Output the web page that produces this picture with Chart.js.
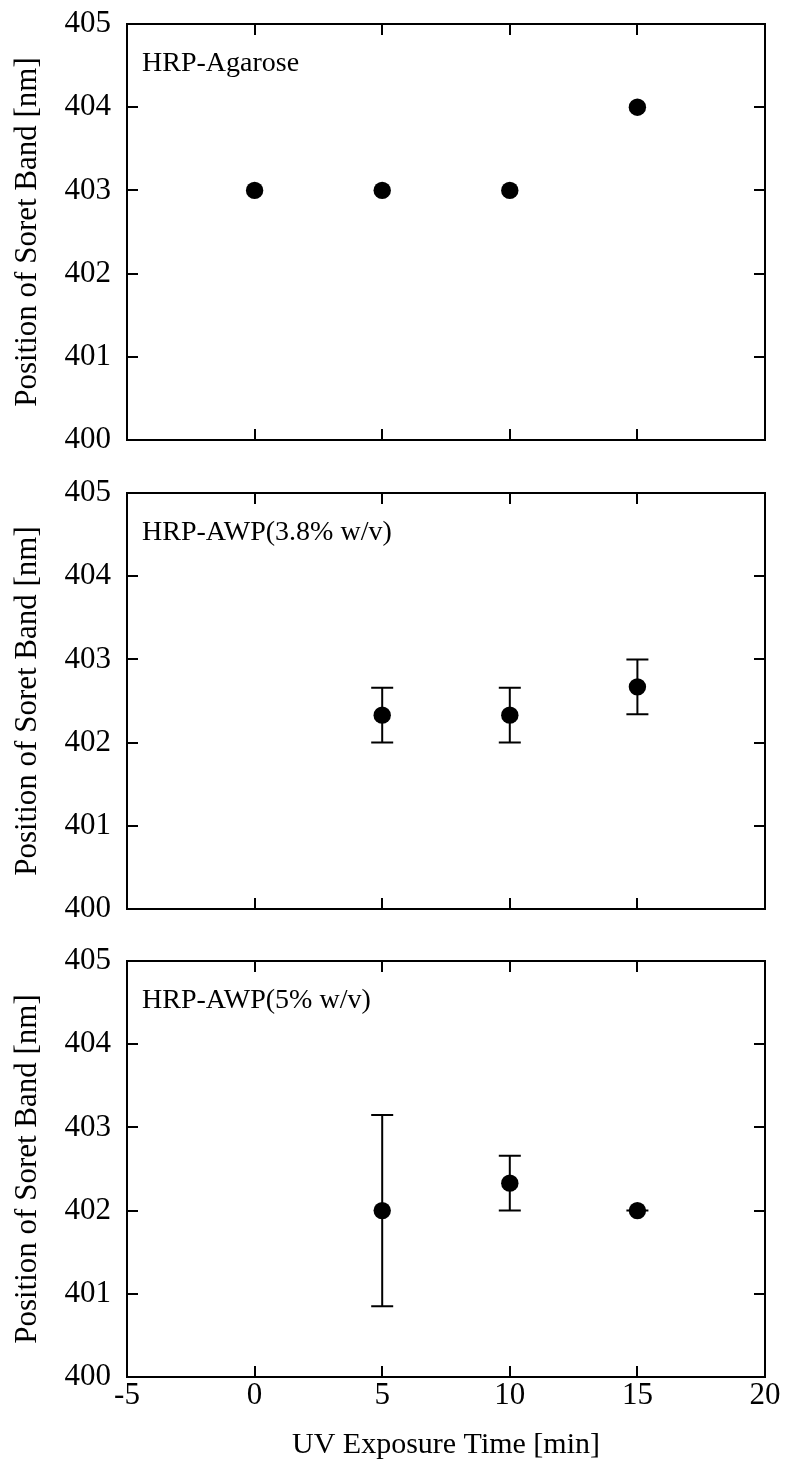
<!DOCTYPE html>
<html>
<head>
<meta charset="utf-8">
<script src="https://cdn.jsdelivr.net/npm/chart.js@4.4.1/dist/chart.umd.min.js"></script>
<style>
  html, body { margin: 0; padding: 0; background: #fff; }
  #wrap { position: relative; width: 787px; height: 1475px; }
  #wrap canvas { position: absolute; left: 0; }
</style>
</head>
<body>
<div id="wrap">
  <canvas id="pA" width="787" height="469" style="top:0px"></canvas>
  <canvas id="pB" width="787" height="469" style="top:469px"></canvas>
  <canvas id="pC" width="787" height="538" style="top:937px"></canvas>
</div>
<script>
// ── Veri ─────────────────────────────────────────────
var panelLabels = ['HRP-Agarose', 'HRP-AWP(3.8% w/v)', 'HRP-AWP(5% w/v)'];

var timeA = [0, 5, 10, 15];
var bandA = [403, 403, 403, 404];
var errA  = [null, null, null, null];

var timeB = [5, 10, 15];
var bandB = [402.33, 402.33, 402.67];
var errB  = [0.33, 0.33, 0.33];

var timeC = [5, 10, 15];
var bandC = [402, 402.33, 402];
var errC  = [1.15, 0.33, 0];

var xMin = -5, xMax = 20, xStep = 5;
var yMin = 400, yMax = 405, yStep = 1;

var yTitle = 'Position of Soret Band [nm]';
var xTitle = 'UV Exposure Time [min]';

var SERIF = "'Liberation Serif', 'Times New Roman', serif";
var charts = {};

// ── Çerçeve + içe dönük tikler ───────────────────────
var framePlugin = {
  id: 'frame',
  afterDraw: function(chart) {
    var ctx = chart.ctx, a = chart.chartArea;
    var xs = chart.scales.x, ys = chart.scales.y;
    var len = 11;
    ctx.save();
    ctx.strokeStyle = '#000';
    ctx.lineWidth = 2;
    ctx.strokeRect(a.left, a.top, a.right - a.left, a.bottom - a.top);
    ctx.beginPath();
    ys.ticks.forEach(function(t) {
      if (t.value <= yMin || t.value >= yMax) return;
      var py = Math.round(ys.getPixelForValue(t.value));
      ctx.moveTo(a.left, py);  ctx.lineTo(a.left + len, py);
      ctx.moveTo(a.right, py); ctx.lineTo(a.right - len, py);
    });
    xs.ticks.forEach(function(t) {
      if (t.value <= xMin || t.value >= xMax) return;
      var px = Math.round(xs.getPixelForValue(t.value));
      ctx.moveTo(px, a.top);    ctx.lineTo(px, a.top + len);
      ctx.moveTo(px, a.bottom); ctx.lineTo(px, a.bottom - len);
    });
    ctx.stroke();
    // panel etiketi
    var lbl = chart.options.plugins.frame.label;
    ctx.fillStyle = '#000';
    ctx.font = '28px ' + SERIF;
    ctx.textBaseline = 'alphabetic';
    ctx.textAlign = 'left';
    ctx.fillText(lbl, a.left + 15, a.top + 47);
    ctx.restore();
  }
};

// ── Hata çubukları ───────────────────────────────────
var errPlugin = {
  id: 'errbars',
  beforeDatasetsDraw: function(chart) {
    var ctx = chart.ctx, xs = chart.scales.x, ys = chart.scales.y;
    var errs = chart.options.plugins.errbars.err;
    var ds = chart.data.datasets[0];
    var cap = 11;
    ctx.save();
    ctx.strokeStyle = '#000';
    ctx.lineWidth = 2;
    ds.data.forEach(function(p, i) {
      var e = errs[i];
      if (e === null || e === undefined) return;
      var px = xs.getPixelForValue(p.x);
      var top = ys.getPixelForValue(p.y + e);
      var bot = ys.getPixelForValue(p.y - e);
      ctx.beginPath();
      ctx.moveTo(px, top); ctx.lineTo(px, bot);
      ctx.moveTo(px - cap, top); ctx.lineTo(px + cap, top);
      ctx.moveTo(px - cap, bot); ctx.lineTo(px + cap, bot);
      ctx.stroke();
    });
    ctx.restore();
  }
};

function mkPanel(id, xs, ys, errs, label, showX) {
  var pts = xs.map(function(x, i) { return { x: x, y: ys[i] }; });
  var ctx = document.getElementById(id);
  charts[id] = new Chart(ctx, {
    type: 'scatter',
    data: {
      datasets: [{
        data: pts,
        pointRadius: 8.7,
        pointHoverRadius: 8.7,
        pointBackgroundColor: '#000',
        pointBorderWidth: 0,
        showLine: false
      }]
    },
    options: {
      responsive: false,
      animation: false,
      events: [],
      layout: { padding: { top: 24, right: 22, left: 0, bottom: showX ? 0 : 29 } },
      plugins: {
        legend: { display: false },
        tooltip: { enabled: false },
        frame: { label: label },
        errbars: { err: errs }
      },
      scales: {
        x: {
          type: 'linear', min: xMin, max: xMax,
          grid: { display: false, drawTicks: false },
          border: { display: false },
          ticks: {
            display: showX, stepSize: xStep, padding: 0, color: '#000',
            font: { family: SERIF, size: 31 }
          },
          title: {
            display: showX, text: xTitle, color: '#000',
            font: { family: SERIF, size: 30 },
            padding: { top: 0, bottom: 12 }
          },
          afterFit: function(s) {
            s.height = showX ? 98 : 0;
            s.paddingLeft = 0; s.paddingRight = 0;
          }
        },
        y: {
          type: 'linear', min: yMin, max: yMax,
          grid: { display: false, drawTicks: false },
          border: { display: false },
          ticks: {
            stepSize: yStep, padding: 16, color: '#000',
            font: { family: SERIF, size: 31 }
          },
          title: {
            display: true, text: yTitle, color: '#000',
            font: { family: SERIF, size: 31 },
            padding: { top: 9, bottom: 0 }
          },
          afterFit: function(s) {
            s.width = 127;
            s.paddingTop = 0; s.paddingBottom = 0;
          }
        }
      }
    },
    plugins: [framePlugin, errPlugin]
  });
  return charts[id];
}

mkPanel('pA', timeA, bandA, errA, panelLabels[0], false);
mkPanel('pB', timeB, bandB, errB, panelLabels[1], false);
mkPanel('pC', timeC, bandC, errC, panelLabels[2], true);
</script>
</body>
</html>
